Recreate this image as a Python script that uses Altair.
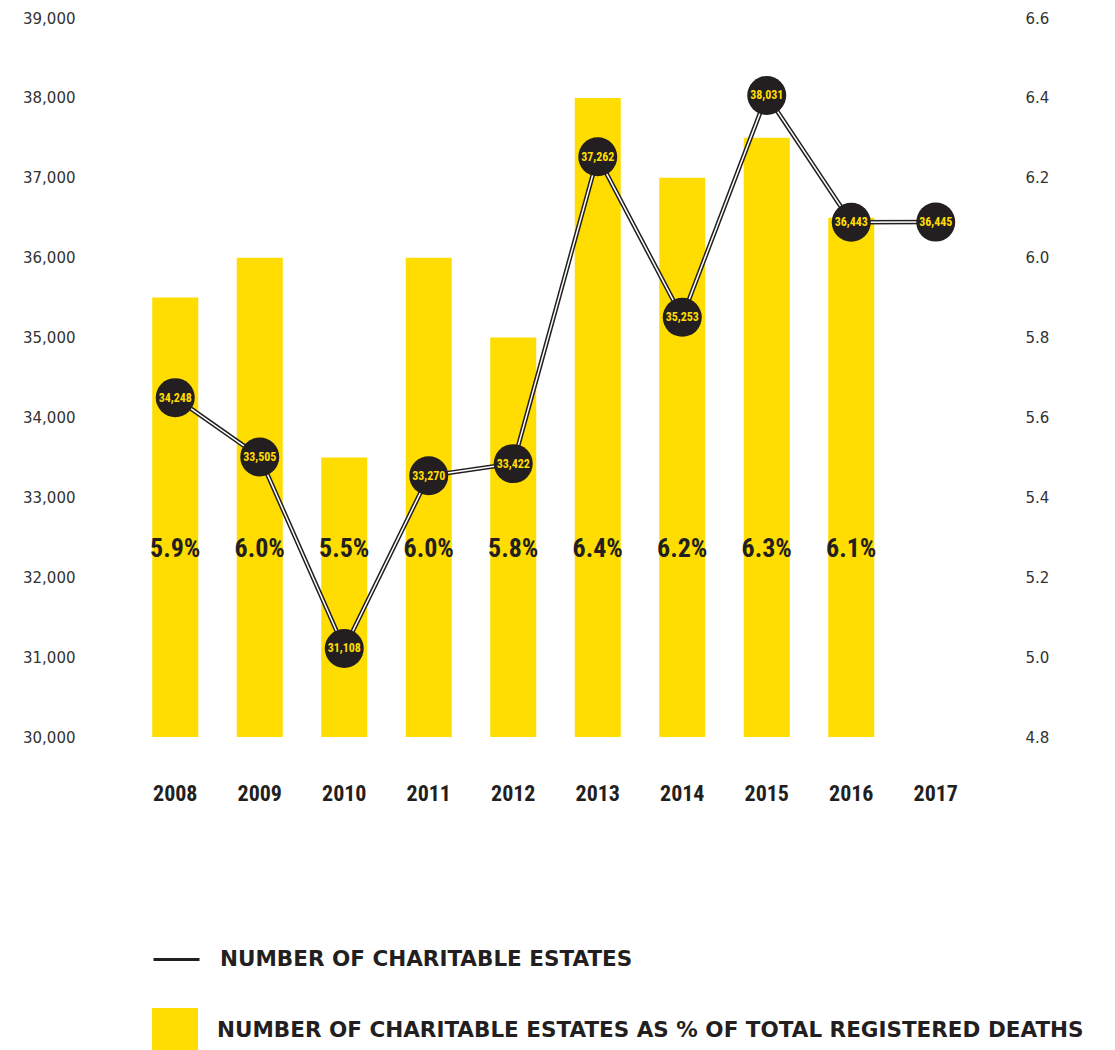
import altair as alt
import pandas as pd

years = ["2008", "2009", "2010", "2011", "2012", "2013", "2014", "2015", "2016", "2017"]
estates = [34248, 33505, 31108, 33270, 33422, 37262, 35253, 38031, 36443, 36445]
pct = [5.9, 6.0, 5.5, 6.0, 5.8, 6.4, 6.2, 6.3, 6.1, None]
line_name = "NUMBER OF CHARITABLE ESTATES"
bar_name = "NUMBER OF CHARITABLE ESTATES AS % OF TOTAL REGISTERED DEATHS"
left_ticks = [30000, 31000, 32000, 33000, 34000, 35000, 36000, 37000, 38000, 39000]
right_ticks = [4.8, 5.0, 5.2, 5.4, 5.6, 5.8, 6.0, 6.2, 6.4, 6.6]
pct_label_level = 5.27

YELLOW = "#FFDD00"
DARK = "#231F20"
COND = "'Noto Sans ExtraCondensed', 'Noto Sans Condensed', 'Roboto Condensed', 'Liberation Sans Narrow', 'DejaVu Sans Condensed', sans-serif"

df = pd.DataFrame({"year": years, "estates": estates, "pct": pct})
df["s_line"] = line_name
df["s_bar"] = bar_name

x_enc = alt.X(
    "year:N", sort=years, title=None,
    scale=alt.Scale(paddingInner=0.456, paddingOuter=0.228),
    axis=alt.Axis(labelFont=COND, labelFontSize=22, labelFontWeight="bold",
                  labelColor=DARK, labelPadding=46, labelAngle=0, labelBaseline="top"),
)
left_scale = alt.Scale(domain=[30000, 39000], zero=False, nice=False)
right_scale = alt.Scale(domain=[4.8, 6.6], zero=False, nice=False)

base = alt.Chart(df)

bars = base.transform_filter("isValid(datum.pct)").mark_bar(width=46).encode(
    x=x_enc,
    y=alt.Y("pct:Q", scale=right_scale, title=None,
            axis=alt.Axis(orient="right", values=right_ticks, format=".1f",
                          labelFont="DejaVu Sans", labelFontSize=15, labelColor="#333333",
                          labelPadding=47, labelAlign="left")),
    y2=alt.Y2Datum(4.8),
    fill=alt.Fill("s_bar:N", scale=alt.Scale(domain=[bar_name], range=[YELLOW]),
                  legend=alt.Legend(orient="none", legendX=19, legendY=990, title=None,
                                    symbolType="square", symbolSize=2116, symbolStrokeWidth=0,
                                    symbolOpacity=1, labelFont="DejaVu Sans", labelFontSize=21.5,
                                    labelFontWeight="bold", labelColor=DARK, labelOffset=19,
                                    labelLimit=1500, padding=0)),
)

pct_text = base.transform_filter("isValid(datum.pct)").transform_calculate(
    lab="format(datum.pct, '.1f') + '%'"
).mark_text(font=COND, fontSize=26, fontWeight="bold", color=DARK, baseline="middle").encode(
    x=x_enc,
    y=alt.YDatum(pct_label_level, scale=right_scale, axis=None),
    text="lab:N",
)

line_dark = base.mark_line(strokeWidth=4.5).encode(
    x=x_enc,
    y=alt.Y("estates:Q", scale=left_scale, title=None,
            axis=alt.Axis(orient="left", values=left_ticks, format=",.0f",
                          labelFont="DejaVu Sans", labelFontSize=15, labelColor="#333333",
                          labelPadding=58)),
    stroke=alt.Stroke("s_line:N", scale=alt.Scale(domain=[line_name], range=[DARK]),
                      legend=alt.Legend(orient="none", legendX=19, legendY=917, title=None,
                                        symbolType="stroke", symbolSize=2116, symbolStrokeWidth=3,
                                        symbolStrokeColor="#555555",
                                        labelFont="DejaVu Sans", labelFontSize=21.5,
                                        labelFontWeight="bold", labelColor=DARK, labelOffset=19,
                                        labelLimit=1500, padding=0)),
)

line_white = base.mark_line(strokeWidth=1.5, color="white").encode(
    x=x_enc,
    y=alt.Y("estates:Q", scale=left_scale, axis=None),
)

circles = base.mark_circle(size=1520, opacity=1, color=DARK).encode(
    x=x_enc,
    y=alt.Y("estates:Q", scale=left_scale, axis=None),
)

circle_text = base.mark_text(font=COND, fontSize=12, fontWeight="bold", color=YELLOW,
                             baseline="middle").encode(
    x=x_enc,
    y=alt.Y("estates:Q", scale=left_scale, axis=None),
    text=alt.Text("estates:Q", format=","),
)

chart = alt.layer(bars, pct_text, line_dark, line_white, circles, circle_text).resolve_scale(
    y="independent"
).properties(
    width=845, height=719,
    autosize=alt.AutoSizeParams(type="none"),
    padding={"left": 125, "top": 10, "right": 128, "bottom": 315},
).configure_axis(
    domain=False, ticks=False, grid=False
).configure_view(stroke=None)

chart.save("out.html", embed_options={"renderer": "svg", "actions": False})
